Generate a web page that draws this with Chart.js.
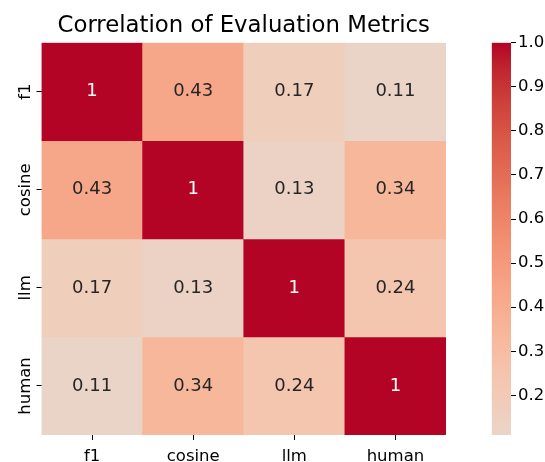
<!DOCTYPE html>
<html>
<head>
<meta charset="utf-8">
<script src="https://cdn.jsdelivr.net/npm/chart.js@4"></script>
<style>
  html, body { margin: 0; padding: 0; background: #fff; }
  #wrap { position: relative; width: 545px; height: 462px; }
  #heatmap { position: absolute; left: 0; top: 0; }
  #cbar { position: absolute; left: 470px; top: 0; }
</style>
</head>
<body>
<div id="wrap">
  <canvas id="heatmap" width="487" height="462"></canvas>
  <canvas id="cbar" width="75" height="462"></canvas>
</div>
<script>
// metrics and correlation values
var metrics = ["f1", "cosine", "llm", "human"];
var f1Row = [1, 0.43, 0.17, 0.11];
var cosineRow = [0.43, 1, 0.13, 0.34];
var llmRow = [0.17, 0.13, 1, 0.24];
var humanRow = [0.11, 0.34, 0.24, 1];
var rows = [f1Row, cosineRow, llmRow, humanRow];
var colorbarTicks = [0.2, 0.3, 0.4, 0.5, 0.6, 0.7, 0.8, 0.9, 1.0];
var vmin = 0.11, vmax = 1.0;

// upper half of matplotlib coolwarm (seaborn center=0)
var coolwarmTop = [
  [221, 221, 221], [229, 216, 209], [236, 211, 197], [241, 204, 184],
  [245, 196, 173], [247, 187, 160], [247, 177, 148], [247, 166, 135],
  [244, 154, 123], [241, 141, 111], [236, 127, 99], [229, 112, 88],
  [222, 96, 77], [213, 80, 66], [203, 62, 56], [192, 40, 47], [180, 4, 38]
];

function colorFor(v) {
  var t = Math.max(0, Math.min(1, v)) * (coolwarmTop.length - 1);
  var i = Math.min(Math.floor(t), coolwarmTop.length - 2);
  var f = t - i;
  var a = coolwarmTop[i], b = coolwarmTop[i + 1];
  return a.map(function (x, k) { return Math.round(x + (b[k] - x) * f); });
}
function rgb(c) { return "rgb(" + c[0] + "," + c[1] + "," + c[2] + ")"; }

Chart.defaults.font.family = "'DejaVu Sans', sans-serif";
Chart.defaults.color = "#000";

var cellText = {
  id: "cellText",
  afterDatasetsDraw: function (chart) {
    var ctx = chart.ctx;
    ctx.save();
    ctx.font = "18px 'DejaVu Sans'";
    ctx.textAlign = "center";
    ctx.textBaseline = "middle";
    chart.data.datasets.forEach(function (ds, di) {
      chart.getDatasetMeta(di).data.forEach(function (bar, ci) {
        var v = rows[di][ci];
        var c = colorFor(v);
        var lum = 0.2126 * Math.pow(c[0] / 255, 2.2) + 0.7152 * Math.pow(c[1] / 255, 2.2) + 0.0722 * Math.pow(c[2] / 255, 2.2);
        ctx.fillStyle = lum < 0.408 ? "#fff" : "#262626";
        ctx.fillText(String(v), bar.x, (bar.y + bar.base) / 2);
      });
    });
    // rotated row labels
    var ys = chart.scales.y;
    ctx.font = "16.5px 'DejaVu Sans'";
    ctx.fillStyle = "#000";
    ctx.textBaseline = "alphabetic";
    metrics.forEach(function (m, i) {
      ctx.save();
      ctx.translate(ys.right - 12, ys.getPixelForValue(i + 0.5));
      ctx.rotate(-Math.PI / 2);
      ctx.fillText(m, 0, 0);
      ctx.restore();
    });
    ctx.restore();
  }
};

new Chart(document.getElementById("heatmap"), {
  type: "bar",
  data: {
    labels: metrics,
    datasets: rows.map(function (r, ri) {
      return {
        label: metrics[ri],
        data: r.map(function () { return [ri, ri + 1]; }),
        backgroundColor: r.map(function (v) { return rgb(colorFor(v)); }),
        borderWidth: 0,
        grouped: false,
        barPercentage: 1,
        categoryPercentage: 1
      };
    })
  },
  options: {
    responsive: false,
    animation: false,
    layout: { padding: { left: 41.5, right: 41, top: 0, bottom: 0 } },
    plugins: {
      legend: { display: false },
      tooltip: { enabled: false },
      title: {
        display: true,
        text: "Correlation of Evaluation Metrics",
        font: { size: 22.8, weight: "normal" },
        color: "#000",
        padding: { top: 12.5, bottom: 2.8 }
      }
    },
    scales: {
      x: {
        grid: { drawOnChartArea: false, offset: false, tickLength: 5, color: "#000" },
        border: { display: false },
        ticks: { font: { size: 16.5 }, color: "#000", padding: 6.5 },
        afterFit: function (s) { s.height = 27; }
      },
      y: {
        type: "linear",
        min: 0,
        max: 4,
        reverse: true,
        afterBuildTicks: function (s) {
          s.ticks = metrics.map(function (m, i) { return { value: i + 0.5 }; });
        },
        grid: { drawOnChartArea: false, tickLength: 5, color: "#000" },
        border: { display: false },
        ticks: { display: false },
        afterFit: function (s) { s.width = 0; }
      }
    }
  },
  plugins: [cellText]
});

new Chart(document.getElementById("cbar"), {
  type: "bar",
  data: {
    labels: [""],
    datasets: [{
      data: [[vmin, vmax]],
      borderWidth: 0,
      barPercentage: 1,
      categoryPercentage: 1,
      backgroundColor: function (ctx) {
        var chart = ctx.chart;
        if (!chart.chartArea) return null;
        var ys = chart.scales.y;
        var g = chart.ctx.createLinearGradient(0, ys.getPixelForValue(vmin), 0, ys.getPixelForValue(vmax));
        for (var s = 0; s <= 32; s++) {
          var v = vmin + (vmax - vmin) * s / 32;
          g.addColorStop(s / 32, rgb(colorFor(v)));
        }
        return g;
      }
    }]
  },
  options: {
    responsive: false,
    animation: false,
    layout: { padding: { left: 21.7, right: 0, top: 42.7, bottom: 27 } },
    plugins: { legend: { display: false }, tooltip: { enabled: false } },
    scales: {
      x: { display: false },
      y: {
        position: "right",
        min: vmin,
        max: vmax,
        afterBuildTicks: function (s) {
          s.ticks = colorbarTicks.map(function (v) { return { value: v }; });
        },
        grid: { drawOnChartArea: false, tickLength: 5, color: "#000" },
        border: { display: false },
        ticks: {
          font: { size: 16.5 },
          color: "#000",
          padding: 2,
          callback: function (v) { return v.toFixed(1); }
        },
        afterFit: function (s) { s.width = 34; }
      }
    }
  }
});
</script>
</body>
</html>
